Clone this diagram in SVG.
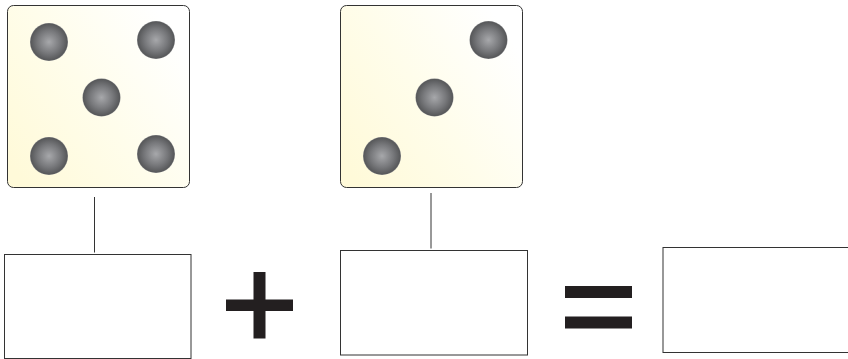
<svg xmlns="http://www.w3.org/2000/svg" width="848" height="359" viewBox="0 0 848 359">
<style>
.die{stroke:#333;stroke-width:1;fill:url(#cream)}
.pip{fill:url(#pip)}
.box{fill:#fff;stroke:#333;stroke-width:1}
.conn{stroke:#333;stroke-width:1;fill:none}
.op{fill:#231f20}
</style>
<defs>
<linearGradient id="cream" x1="0" y1="0.85" x2="0.95" y2="0.2">
<stop offset="0" stop-color="#fffad9"/>
<stop offset="0.5" stop-color="#fffdeb"/>
<stop offset="1" stop-color="#ffffff"/>
</linearGradient>
<radialGradient id="pip">
<stop offset="0" stop-color="#a7a8ab"/>
<stop offset="0.6" stop-color="#77787b"/>
<stop offset="0.95" stop-color="#58595b"/>
<stop offset="1" stop-color="#808184"/>
</radialGradient>
</defs>
<g id="connectors">
<line class="conn" x1="94.5" y1="197" x2="94.5" y2="252.5"/>
<line class="conn" x1="431" y1="193" x2="431" y2="248.5"/>
</g>
<g id="die-five">
<rect class="die" x="7.5" y="5.500" width="182" height="182" rx="6"/>
<circle class="pip" cx="49" cy="42" r="19"/>
<circle class="pip" cx="156" cy="40" r="19"/>
<circle class="pip" cx="101.500" cy="97.500" r="19"/>
<circle class="pip" cx="49" cy="156" r="19"/>
<circle class="pip" cx="156" cy="154" r="19"/>
</g>
<g id="die-three">
<rect class="die" x="340.500" y="5.500" width="182" height="182" rx="6"/>
<circle class="pip" cx="488.500" cy="40" r="19"/>
<circle class="pip" cx="434.500" cy="97.500" r="19"/>
<circle class="pip" cx="382" cy="156" r="19"/>
</g>
<g id="box-left"><rect class="box" x="4.500" y="254.500" width="186.500" height="104"/></g>
<g id="plus"><path class="op" d="M226 299.500H253.500V272H265.500V299.500H293V311H265.500V338.500H253.500V311H226Z"/></g>
<g id="box-middle"><rect class="box" x="340.500" y="250.500" width="187" height="104.500"/></g>
<g id="equals">
<rect class="op" x="565" y="286" width="67" height="12"/>
<rect class="op" x="565" y="316.500" width="67" height="12"/>
</g>
<g id="box-result"><rect class="box" x="663" y="247.500" width="187" height="105"/></g>
</svg>
